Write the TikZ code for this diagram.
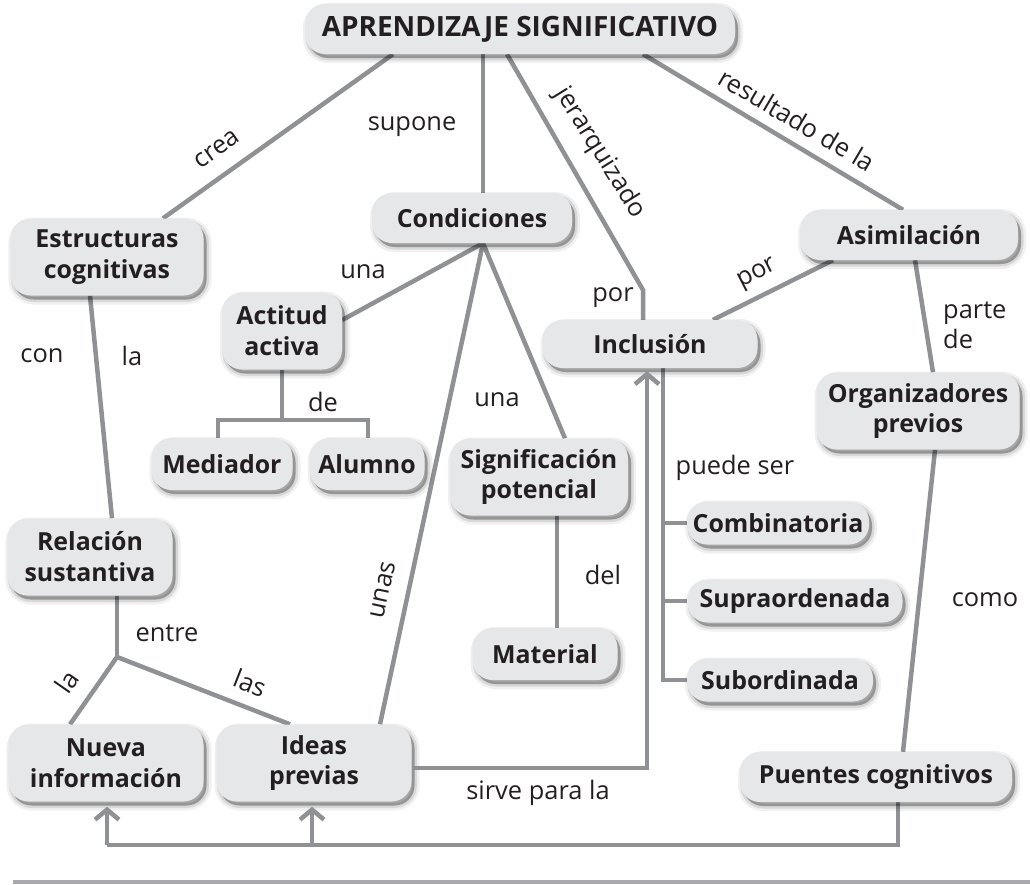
\documentclass[tikz,border=0pt]{standalone}
\usepackage{fontspec}
\setmainfont{Open Sans}
\usetikzlibrary{arrows.meta,shadows,backgrounds}
\definecolor{boxfill}{HTML}{E6E7E8}
\definecolor{ink}{HTML}{231F20}
\definecolor{linegray}{HTML}{8F9194}
\definecolor{rulegray}{HTML}{A7A9AC}
\tikzset{
  box/.style={rounded corners=20bp, fill=boxfill, text=ink,
    font=\bfseries\fontsize{25}{31}\selectfont, align=center, inner sep=0pt,
    general shadow={shadow xshift=3bp, shadow yshift=-4bp, fill=black, draw=black, opacity=0.06, line width=10bp},
    general shadow={shadow xshift=3bp, shadow yshift=-4bp, fill=black, draw=black, opacity=0.10, line width=5bp},
    general shadow={shadow xshift=3bp, shadow yshift=-4bp, fill=black, opacity=0.18}},
  lbl/.style={text=ink, font=\fontsize{25.5}{30}\selectfont, inner sep=0pt},
  conn/.style={draw=linegray, line width=4.5bp},
  arr/.style={conn, -{Straight Barb[length=10bp,width=24bp]}},
}
\begin{document}
\begin{tikzpicture}[x=1bp,y=-1bp]
\useasboundingbox (0,0) rectangle (1030,885);
% nodes
\node[box, minimum width=430bp, minimum height=50bp, font=\bfseries\fontsize{28}{32}\selectfont] (top) at (520,29) {APRENDIZAJE SIGNIFICATIVO};
\node[box, minimum width=193bp, minimum height=77bp] (estr) at (107,257) {Estructuras\\cognitivas};
\node[box, minimum width=200bp, minimum height=50bp] (cond) at (472,218) {Condiciones};
\node[box, minimum width=120bp, minimum height=77bp] (act) at (282,331) {Actitud\\activa};
\node[box, minimum width=141bp, minimum height=52bp] (med) at (222,464) {Mediador};
\node[box, minimum width=115bp, minimum height=52bp] (alu) at (367,464) {Alumno};
\node[box, minimum width=215bp, minimum height=48bp] (incl) at (650,344) {Inclusión};
\node[box, minimum width=218bp, minimum height=50bp] (asim) at (909,235) {Asimilación};
\node[box, minimum width=203bp, minimum height=77bp] (org) at (918,411) {Organizadores\\previos};
\node[box, minimum width=178bp, minimum height=77bp] (sig) at (539,477) {Significación\\potencial};
\node[box, minimum width=145bp, minimum height=52bp] (mat) at (545,654) {Material};
\node[box, minimum width=182bp, minimum height=43bp] (comb) at (778,523) {Combinatoria};
\node[box, minimum width=215bp, minimum height=43bp] (supra) at (795,601) {Supraordenada};
\node[box, minimum width=186bp, minimum height=43bp] (sub) at (780,680) {Subordinada};
\node[box, minimum width=165bp, minimum height=77bp] (rel) at (90,557) {Relación\\sustantiva};
\node[box, minimum width=195bp, minimum height=77bp] (nueva) at (106,763) {Nueva\\información};
\node[box, minimum width=195bp, minimum height=77bp] (ideas) at (314,763) {Ideas\\previas};
\node[box, minimum width=272bp, minimum height=50bp] (puen) at (876,777) {Puentes cognitivos};
% junction coordinates
\coordinate (jk) at (643,290);
\coordinate (dej) at (282,420);
\coordinate (rj) at (117,657);
\coordinate (sv) at (647,768);
\coordinate (pb) at (898,845);
\coordinate (pl) at (107,845);
\coordinate (pm) at (312,845);
% connectors
\begin{scope}[on background layer]
\draw[conn] (393,0 |- top.south) -- (163,0 |- estr.north);
\draw[conn] (483,0 |- top.south) -- (483,0 |- cond.north);
\draw[conn] (507,0 |- top.south) -- (jk) -- (643,0 |- incl.north);
\draw[conn] (643,0 |- top.south) -- (903,0 |- asim.north);
\draw[conn] (483,0 |- cond.south) -- (act.east |- 0,320);
\draw[conn] (483,0 |- cond.south) -- (380,0 |- ideas.north);
\draw[conn] (483,0 |- cond.south) -- (565,0 |- sig.north);
\draw[conn] (act.south) -- (dej);
\draw[conn] (218,0 |- med.north) |- (dej) -| (368,0 |- alu.north);
\draw[conn] (90,0 |- estr.south) -- (112,0 |- rel.north);
\draw[conn] (117,0 |- rel.south) -- (rj);
\draw[conn] (rj) -- (70,0 |- nueva.north);
\draw[conn] (rj) -- (290,0 |- ideas.north);
\draw[conn] (557,0 |- sig.south) -- (557,0 |- mat.north);
\draw[conn] (663,0 |- incl.south) |- (sub.west);
\draw[conn] (663,0 |- comb.west) -- (comb.west);
\draw[conn] (663,0 |- supra.west) -- (supra.west);
\draw[conn] (833,0 |- asim.south) -- (713,0 |- incl.north);
\draw[conn] (915,0 |- asim.south) -- (933,0 |- org.north);
\draw[conn] (935,0 |- org.south) -- (903,0 |- puen.north);
\draw[conn] (898,0 |- puen.south) -- (pb) -- (pl);
\end{scope}
\draw[arr] (ideas.east |- sv) -- (sv) -- ([yshift=-3bp]647,0 |- incl.south);
\draw[arr] (pl) -- ([yshift=-5bp]107,0 |- nueva.south);
\draw[arr] (pm) -- ([yshift=-5bp]312,0 |- ideas.south);
% labels
\node[lbl, rotate=35] (l1) at (217,149) {crea};
\node[lbl] (l2) at (412,127) {supone};
\node[lbl, rotate=-58] (l3) at (600,153) {jerarquizado};
\node[lbl, rotate=-30.5] (l4) at (797,120) {resultado de la};
\node[lbl] (l5) at (613,298) {por};
\node[lbl, rotate=27] (l6) at (758,275) {por};
\node[lbl] (l7) at (363,272) {una};
\node[lbl] (l8) at (497,400) {una};
\node[lbl, rotate=78] (l9) at (383,590) {unas};
\node[lbl] (l10) at (323,402) {de};
\node[lbl] (l11) at (42,356) {con};
\node[lbl] (l12) at (132,356) {la};
\node[lbl] (l13) at (167,633) {entre};
\node[lbl, rotate=55] (l14) at (67,682) {la};
\node[lbl, rotate=-21.5] (l15) at (250,683) {las};
\node[lbl] (l16) at (603,575) {del};
\node[lbl] (l17) at (735,468) {puede ser};
\node[lbl, align=left, anchor=west] (l18) at (943,325) {parte\\de};
\node[lbl] (l19) at (985,600) {como};
\node[lbl] (l20) at (538,793) {sirve para la};
% bottom rule
\coordinate (ra) at (13,882);
\coordinate (rb) at (1030,882);
\draw[draw=rulegray, line width=3.5bp] (ra) -- (rb);
\end{tikzpicture}
\end{document}
